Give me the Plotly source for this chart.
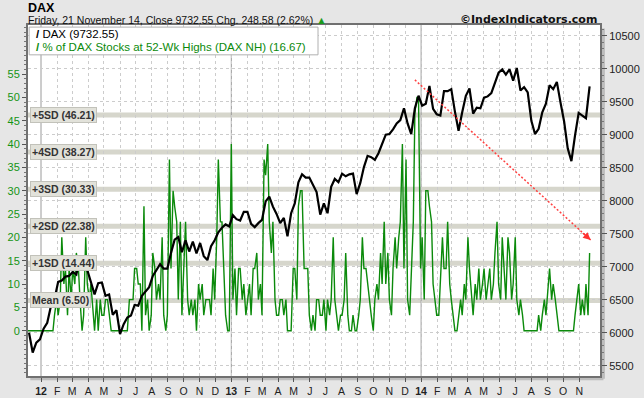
import plotly.graph_objects as go
import pandas as pd

# ---------------- data ----------------
dax_start = "2011-12-09"   # weekly closes (Fridays)
dax_values = [
    6000, 5700, 5850, 5900, 6060, 6150, 6400, 6510, 6770, 6790,
    6850, 6860, 6920, 6880, 7150, 6990, 6950, 6780, 6580, 6750,
    6760, 6560, 6580, 6270, 6340, 5980, 6130, 6230, 6260, 6420,
    6410, 6560, 6630, 6690, 6860, 6940, 7040, 6970, 6970, 7210,
    7410, 7450, 7220, 7400, 7230, 7380, 7200, 7360, 7160, 7100,
    7310, 7400, 7520, 7590, 7640, 7610, 7780, 7720, 7700, 7830,
    7830, 7650, 7600, 7660, 7710, 7990, 8060, 7910, 7800, 7660,
    7740, 7460, 7810, 7960, 8280, 8400, 8350, 8350, 8250, 8130,
    7790, 7960, 7810, 8210, 8330, 8280, 8410, 8370, 8400, 8410,
    8100, 8270, 8510, 8680, 8660, 8620, 8720, 8870, 9000, 9010,
    9080, 9170, 9220, 9400, 9170, 9010, 9400, 9590, 9440, 9470,
    9740, 9390, 9310, 9290, 9660, 9660, 9690, 9350, 9060, 9340,
    9590, 9700, 9320, 9410, 9400, 9560, 9580, 9630, 9770, 9940,
    9990, 9910, 9990, 9820, 10010, 9670, 9720, 9640, 9210, 9010,
    9090, 9340, 9470, 9750, 9690, 9800, 9490, 9200, 8790, 8600,
    8990, 9330, 9290, 9250, 9732.55,
]

nh_start = "2011-12-09"    # % of DAX stocks at 52-week highs, Tue & Fri of each week
nh_values = [
    0, 0, 0, 0, 0, 0, 0, 0, 0, 0,
    0, 0, 0, 0, 0, 3.33, 6.67, 3.33, 6.67, 20,
    10, 13.33, 3.33, 13.33, 6.67, 13.33, 10, 16.67, 13.33, 6.67,
    0, 3.33, 20, 10, 6.67, 10, 3.33, 0, 6.67, 0,
    6.67, 3.33, 3.33, 6.67, 6.67, 3.33, 0, 0, 0, 0,
    0, 0, 0, 0, 0, 0, 6.67, 6.67, 6.67, 13.33,
    13.33, 10, 10, 0, 26.67, 3.33, 6.67, 0, 3.33, 16.67,
    13.33, 6.67, 10, 6.67, 20, 3.33, 0, 3.33, 36.67, 13.33,
    30, 26.67, 23.33, 6.67, 23.33, 3.33, 13.33, 23.33, 6.67, 3.33,
    6.67, 3.33, 6.67, 0, 10, 6.67, 10, 3.33, 6.67, 6.67,
    6.67, 3.33, 13.33, 6.67, 20, 36.67, 23.33, 23.33, 10, 3.33,
    0, 0, 40, 6.67, 13.33, 3.33, 13.33, 13.33, 6.67, 10,
    3.33, 6.67, 10, 3.33, 13.33, 13.33, 16.67, 6.67, 10, 3.33,
    36.67, 33.33, 40, 23.33, 16.67, 23.33, 6.67, 3.33, 3.33, 6.67,
    6.67, 3.33, 6.67, 0, 0, 0, 13.33, 13.33, 6.67, 26.67,
    30, 30, 13.33, 13.33, 13.33, 3.33, 0, 3.33, 0, 6.67,
    6.67, 3.33, 3.33, 6.67, 0, 6.67, 3.33, 6.67, 20, 6.67,
    3.33, 0, 3.33, 3.33, 6.67, 16.67, 3.33, 0, 0, 3.33,
    0, 0, 3.33, 6.67, 20, 13.33, 13.33, 10, 6.67, 3.33,
    0, 6.67, 10, 6.67, 16.67, 10, 23.33, 10, 16.67, 6.67,
    3.33, 13.33, 20, 13.33, 20, 23.33, 40, 13.33, 36.67, 6.67,
    3.33, 13.33, 23.33, 46.67, 50, 50, 13.33, 20, 6.67, 30,
    30, 26.67, 23.33, 10, 6.67, 3.33, 3.33, 10, 20, 13.33,
    13.33, 23.33, 10, 6.67, 3.33, 0, 0, 3.33, 6.67, 3.33,
    10, 6.67, 20, 13.33, 6.67, 3.33, 10, 6.67, 13.33, 6.67,
    10, 13.33, 6.67, 10, 13.33, 6.67, 10, 16.67, 23.33, 10,
    6.67, 20, 13.33, 6.67, 20, 16.67, 6.67, 10, 20, 6.67,
    3.33, 6.67, 3.33, 0, 0, 0, 0, 0, 0, 0,
    0, 3.33, 0, 3.33, 6.67, 3.33, 10, 13.33, 6.67, 10,
    6.67, 3.33, 0, 0, 0, 0, 0, 0, 0, 0,
    0, 3.33, 6.67, 10, 3.33, 6.67, 3.33, 10, 3.33, 16.67,
]

sd_names = ["+5SD", "+4SD", "+3SD", "+2SD", "+1SD", "Mean"]
sd_values = [46.21, 38.27, 30.33, 22.38, 14.44, 6.50]

left_ticks = [0, 5, 10, 15, 20, 25, 30, 35, 40, 45, 50, 55]
right_ticks = [5500, 6000, 6500, 7000, 7500, 8000, 8500, 9000, 9500, 10000, 10500]
month_letters = ["J", "F", "M", "A", "M", "J", "J", "A", "S", "O", "N", "D"]
year_labels = {2012: "12", 2013: "13", 2014: "14"}
year_starts = ["2012-01-01", "2013-01-01", "2014-01-01"]

trend_start = ("2013-12-20", 9830)
trend_end = ("2014-11-23", 7405)

title_text = "DAX"
subtitle_text = "Friday, 21 November 14, Close 9732.55 Chg. 248.58 (2.62%)"
credit_text = "©IndexIndicators.com"
dax_label = "DAX (9732.55)"
nh_label = "% of DAX Stocks at 52-Wk Highs (DAX NH) (16.67)"

# ---------------- build ----------------
dax_dates = pd.date_range(dax_start, periods=len(dax_values), freq="W-FRI")
fridays = pd.date_range(nh_start, periods=len(nh_values) // 2, freq="W-FRI")
nh_dates = []
for f in fridays:
    nh_dates.append(f - pd.Timedelta(days=3))
    nh_dates.append(f)

month_starts = pd.date_range("2012-01-01", "2014-11-01", freq="MS")
tick_text = [("<b>%s</b>" % year_labels[d.year]) if d.month == 1 else month_letters[d.month - 1]
             for d in month_starts]

GREEN = "#0b8a0b"
fig = go.Figure()
fig.add_trace(go.Scatter(x=nh_dates, y=nh_values, mode="lines", name=nh_label,
                         line=dict(color=GREEN, width=1.4), yaxis="y", showlegend=False))
fig.add_trace(go.Scatter(x=dax_dates, y=dax_values, mode="lines", name=dax_label,
                         line=dict(color="black", width=2.2), yaxis="y2", showlegend=False))

shapes = []
for v in sd_values:
    shapes.append(dict(type="line", xref="paper", yref="y", x0=0, x1=1, y0=v, y1=v,
                       line=dict(color="#d6d6cc", width=5), layer="below"))
for d in year_starts:
    shapes.append(dict(type="line", xref="x", yref="paper", x0=d, x1=d, y0=0, y1=1,
                       line=dict(color="#9a9a9a", width=1), layer="below"))
shapes.append(dict(type="line", xref="x", yref="y2", x0=trend_start[0], y0=trend_start[1],
                   x1=trend_end[0], y1=trend_end[1],
                   line=dict(color="#ff4040", width=1.5, dash="2px,2px"), layer="above"))
# legend box
shapes.append(dict(type="rect", xref="paper", yref="paper", x0=0.002, x1=0.507, y0=0.915, y1=0.994,
                   fillcolor="white", line=dict(color="#b0b0b0", width=1), layer="above"))
# soft frame shadow (bottom / right)
shapes.append(dict(type="line", xref="paper", yref="paper", x0=0.004, x1=1.006, y0=-0.008, y1=-0.008,
                   line=dict(color="#bdbdbd", width=3), layer="below"))
shapes.append(dict(type="line", xref="paper", yref="paper", x0=1.006, x1=1.006, y0=-0.008, y1=0.99,
                   line=dict(color="#bdbdbd", width=3), layer="below"))

annotations = []
for n, v in zip(sd_names, sd_values):
    annotations.append(dict(xref="paper", yref="y", x=0.003, y=v, xanchor="left", yanchor="middle",
                            text="<b>%s (%.2f)</b>" % (n, v), showarrow=False,
                            font=dict(family="Liberation Sans, Arial", size=10.5, color="#333"),
                            bgcolor="#e2e2da", bordercolor="#c2c2ba", borderwidth=1, borderpad=1))
annotations.append(dict(xref="x", yref="y2", x=trend_end[0], y=trend_end[1], ax=-9, ay=-8,
                        text="", showarrow=True, arrowhead=2, arrowsize=1, arrowwidth=1.5,
                        arrowcolor="#ff3030"))
annotations.append(dict(xref="paper", yref="paper", x=0.012, y=0.9744, xanchor="left", yanchor="middle",
                        text="<b>/</b> " + dax_label, showarrow=False, borderpad=0,
                        font=dict(size=11.5, color="black")))
annotations.append(dict(xref="paper", yref="paper", x=0.012, y=0.9359, xanchor="left", yanchor="middle",
                        text="<b>/</b> " + nh_label, showarrow=False, borderpad=0,
                        font=dict(size=11.5, color=GREEN)))
annotations.append(dict(xref="paper", yref="paper", x=0, y=1, xanchor="left", yanchor="middle",
                        yshift=17.5, xshift=-1, text="<b>" + title_text + "</b>", showarrow=False,
                        borderpad=0, font=dict(size=12.5, color="black")))
annotations.append(dict(xref="paper", yref="paper", x=0, y=1, xanchor="left", yanchor="middle",
                        yshift=5, xshift=-1, borderpad=0,
                        text=subtitle_text + " <span style='color:#1c9a1c'>▲</span>",
                        showarrow=False, font=dict(size=10.5, color="#111")))
annotations.append(dict(xref="paper", yref="paper", x=1, y=1, xanchor="right", yanchor="middle",
                        yshift=6, xshift=-2, text="<b>" + credit_text + "</b>", showarrow=False,
                        borderpad=0, font=dict(family="DejaVu Sans", size=11, color="#111")))

fig.update_layout(
    width=644, height=398,
    margin=dict(l=28, r=44, t=25, b=22, autoexpand=False),
    paper_bgcolor="#e6e6e6", plot_bgcolor="white",
    font=dict(family="Liberation Sans, Arial", size=11, color="#222"),
    showlegend=False,
    shapes=shapes, annotations=annotations,
    xaxis=dict(type="date", range=["2011-12-07", "2014-12-11"], automargin=False,
               tickmode="array", tickvals=list(month_starts), ticktext=tick_text,
               showgrid=True, gridcolor="#cccccc", griddash="3px,3px", gridwidth=1,
               ticks="outside", ticklen=4, tickcolor="#555", tickfont=dict(size=10.5, color="#222"),
               showline=True, linecolor="#707070", linewidth=2, mirror=True, zeroline=False),
    yaxis=dict(range=[-9.7, 65.5], tickmode="array", tickvals=left_ticks, automargin=False,
               ticktext=[str(t) for t in left_ticks],
               tickfont=dict(size=11, color="#149414"), showgrid=False, zeroline=False,
               ticks="outside", ticklen=4, tickcolor="#555",
               minor=dict(ticks="outside", ticklen=2, tickmode="linear", tick0=0, dtick=1,
                          tickcolor="#777"),
               showline=True, linecolor="#707070", linewidth=2),
    yaxis2=dict(range=[5344, 10662], overlaying="y", side="right", tickmode="array", automargin=False,
                tickvals=right_ticks, ticktext=[str(t) for t in right_ticks],
                tickfont=dict(size=11, color="#222"),
                showgrid=True, gridcolor="#cccccc", griddash="3px,3px", zeroline=False,
                ticks="outside", ticklen=5, tickcolor="#555",
                minor=dict(ticks="outside", ticklen=2, tickmode="linear", tick0=5000, dtick=100,
                           tickcolor="#777"),
                showline=True, linecolor="#707070", linewidth=2),
)

fig.write_html("out.html", config={"displayModeBar": False},
               post_script="document.body.style.margin='0';document.body.style.background='#e6e6e6';")
